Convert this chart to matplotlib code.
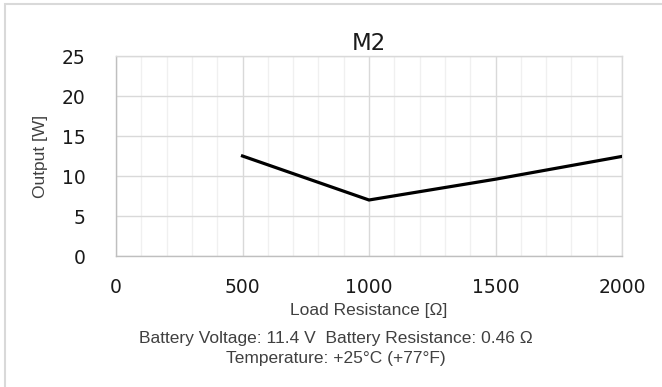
#!/bin/python3

import numpy as np
import matplotlib.pyplot as plt
from matplotlib.patches import Rectangle
from matplotlib.ticker import MultipleLocator

# load sweep for the M2 module
load_resistance = [500, 1000, 1500, 2000]
output_w = [12.5, 7.0, 9.6, 12.45]

x_ticks = [0, 500, 1000, 1500, 2000]
y_ticks = [0, 5, 10, 15, 20, 25]

title = "M2"
x_label = "Load Resistance [Ω]"
y_label = "Output [W]"
note = "Battery Voltage: 11.4 V  Battery Resistance: 0.46 Ω\nTemperature: +25°C (+77°F)"


def main():
    W, H = 662, 387
    fig = plt.figure(figsize=(W / 100, H / 100), dpi=100)

    # light frame around the chart area
    fig.patches.append(Rectangle((4.5 / W, -0.05), 1.2, 1 - 3.5 / H + 0.05,
                                 transform=fig.transFigure, fill=False,
                                 edgecolor="#d9d9d9", linewidth=1.5))

    ax = fig.add_axes([116 / W, 1 - 256 / H, (622 - 116) / W, (256 - 56) / H])

    ax.plot(load_resistance, output_w, color="black", linewidth=2.3,
            solid_joinstyle="miter", zorder=3)

    ax.set_xlim(x_ticks[0], x_ticks[-1])
    ax.set_ylim(y_ticks[0], y_ticks[-1])
    ax.set_xticks(x_ticks)
    ax.set_yticks(y_ticks)
    ax.xaxis.set_minor_locator(MultipleLocator(100))

    ax.grid(which="major", axis="both", color="#d9d9d9", linewidth=1.0)
    ax.grid(which="minor", axis="x", color="#f0f0f0", linewidth=1.0)
    ax.set_axisbelow(True)
    for s in ax.spines.values():
        s.set_color("#d9d9d9")
        s.set_linewidth(1.0)
    ax.spines["left"].set_color("#bfbfbf")
    ax.spines["bottom"].set_color("#bfbfbf")

    ax.tick_params(which="both", length=0)
    ax.tick_params(axis="x", labelsize=13.5, pad=16)
    ax.tick_params(axis="y", labelsize=13.5, pad=22)
    for lab in ax.get_xticklabels() + ax.get_yticklabels():
        lab.set_family("DejaVu Sans")
        lab.set_color("#1a1a1a")

    ax.set_title(title, fontsize=16.5, family="DejaVu Sans", pad=4,
                 color="#1a1a1a")

    fig.text(369 / W, 1 - 310 / H, x_label, ha="center", va="center",
             fontsize=12.5, family="Liberation Sans", color="#404040")
    fig.text(40 / W, 1 - 156 / H, y_label, ha="center", va="center",
             rotation=90, fontsize=12.5, family="Liberation Sans",
             color="#404040")
    fig.text(336 / W, 1 - 348.5 / H, note, ha="center", va="center",
             fontsize=12.5, family="Liberation Sans", color="#404040",
             linespacing=1.35)

    fig.savefig("out.png", dpi=100)


if __name__ == "__main__":
    main()
